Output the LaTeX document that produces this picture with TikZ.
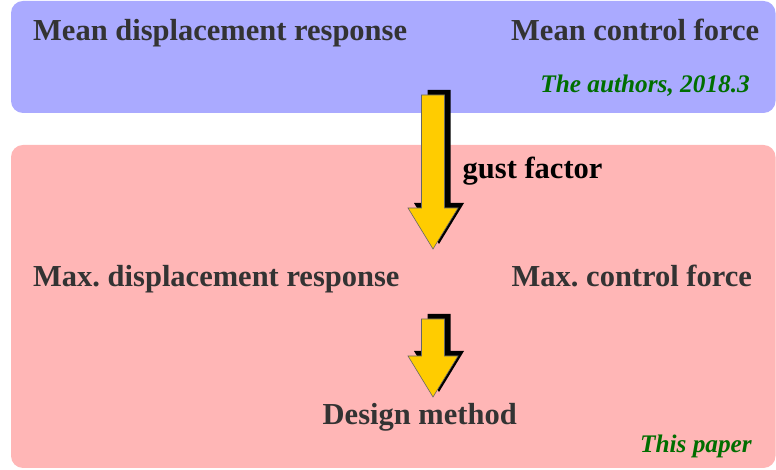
\documentclass[tikz,border=0pt]{standalone}
\usepackage{fontspec}
\setmainfont{Liberation Serif}
\usepackage{tikz}
\usetikzlibrary{shadows}
\usepackage{xcolor}
\frenchspacing

\definecolor{meanblue}{RGB}{170,170,255}
\definecolor{maxpink}{RGB}{255,182,182}
\definecolor{arrowgold}{RGB}{255,204,0}
\definecolor{textgray}{RGB}{51,51,51}
\definecolor{notegreen}{RGB}{0,110,0}

\newcommand{\bigfont}{\fontsize{30.5}{36}\selectfont\bfseries}
\newcommand{\notefont}{\fontsize{25.3}{30}\selectfont\bfseries\itshape}

\begin{document}
\begin{tikzpicture}[x=1pt,y=1pt,
    label/.style={inner sep=0pt,text=textgray,font=\bigfont},
    note/.style={inner sep=0pt,text=notegreen,font=\notefont},
    blockarrow/.style={fill=arrowgold,draw=black!60,line width=0.6pt,
      drop shadow={shadow xshift=6pt,shadow yshift=5pt,opacity=1,fill=black}}]
  \useasboundingbox (0,0) rectangle (776,470);
  % the two stages
  \fill[meanblue,rounded corners=12pt] (11,357) rectangle (775.5,469);
  \fill[maxpink,rounded corners=12pt] (11,2) rectangle (775.5,325);
  % stage 1: mean values
  \node[label,anchor=base west] (meanDisp) at (33,429) {Mean displacement response};
  \node[label,anchor=base west] (meanForce) at (511,429) {Mean control force};
  \node[note,anchor=base east] (authors) at (750,377.3) {The authors, 2018.3};
  % stage 2: maximum values
  \node[label,anchor=base west] (maxDisp) at (33,183) {Max. displacement response};
  \node[label,anchor=base west] (maxForce) at (511.5,183) {Max. control force};
  \node[label,anchor=base west] (design) at (322.5,45) {Design method};
  \node[note,anchor=base east] (thisPaper) at (752,17) {This paper};
  \node[inner sep=0pt,font=\bigfont,anchor=base west] (gust) at (462.5,291) {gust factor};
  % block arrows
  \draw[blockarrow] (421.5,375) -- (444.5,375) -- (444.5,262) -- (458,262)
    -- (433,221) -- (408,262) -- (421.5,262) -- cycle;
  \draw[blockarrow] (421.5,151) -- (444.5,151) -- (444.5,114) -- (458,114)
    -- (433,73) -- (408,114) -- (421.5,114) -- cycle;
\end{tikzpicture}
\end{document}
